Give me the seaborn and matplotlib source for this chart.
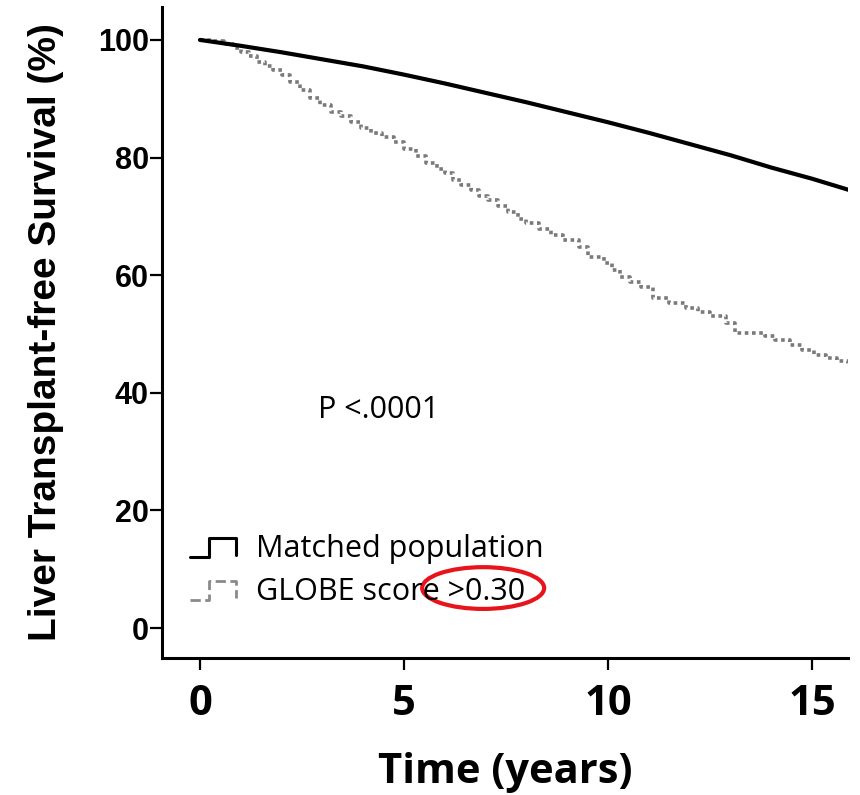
import numpy as np
import pandas as pd
import matplotlib
matplotlib.use('Agg')
import matplotlib.pyplot as plt
import seaborn as sns
from matplotlib.lines import Line2D
from matplotlib.patches import Ellipse
from matplotlib.legend_handler import HandlerBase

# matched population (expected survival, smooth)
matched_t = [0, 1, 2, 3, 4, 5, 6, 7, 8, 9, 10, 11, 12, 13, 14, 15, 15.9]
matched_s = [100, 99.0, 97.9, 96.7, 95.5, 94.1, 92.6, 91.0, 89.4, 87.7, 86.0, 84.2, 82.3, 80.4, 78.3, 76.4, 74.5]

# GLOBE score >0.30 (Kaplan-Meier steps)
globe_t = [0, 0.3, 0.6, 0.8, 1.0, 1.2, 1.4, 1.6, 1.8, 2.0, 2.2, 2.45, 2.7, 2.95, 3.2,
           3.45, 3.7, 3.95, 4.2, 4.45, 4.75, 5.0, 5.3, 5.55, 5.8, 6.0, 6.2, 6.4, 6.65,
           6.85, 7.05, 7.3, 7.55, 7.8, 8.0, 8.3, 8.6, 8.9, 9.3, 9.5, 9.9, 10.1, 10.3,
           10.55, 10.8, 11.1, 11.5, 11.9, 12.2, 12.5, 12.9, 13.1, 13.85, 14.1, 14.45,
           14.75, 15.05, 15.35, 15.6, 15.88]
globe_s = [100, 99.8, 99.3, 98.6, 98.0, 97.2, 96.3, 95.6, 94.9, 94.0, 92.9, 91.5, 90.2,
           89.0, 87.8, 87.0, 86.0, 85.0, 84.2, 83.5, 82.7, 81.5, 80.2, 79.0, 78.1, 77.3,
           76.2, 75.3, 74.4, 73.5, 72.8, 71.7, 70.8, 69.6, 68.8, 67.8, 66.8, 65.9, 64.8,
           63.1, 62.0, 60.8, 59.7, 58.8, 58.0, 56.1, 55.3, 54.5, 53.8, 53.0, 51.8, 50.1,
           49.6, 48.9, 48.1, 47.3, 46.4, 45.9, 45.4, 44.9]

labels = ['Matched population', 'GLOBE score >0.30']
x_ticks = [0, 5, 10, 15]
y_ticks = [0, 20, 40, 60, 80, 100]

sns.set_style('ticks')
plt.rcParams['font.family'] = ['Liberation Sans', 'DejaVu Sans']
for key in ['text.color', 'axes.labelcolor', 'xtick.color', 'ytick.color', 'axes.edgecolor']:
    plt.rcParams[key] = 'black'

matched = pd.DataFrame({'t': matched_t, 's': matched_s})
globe = pd.DataFrame({'t': globe_t, 's': globe_s})


class StepHandler(HandlerBase):
    # legend key drawn as a little step, like the KM legend in SPSS
    def create_artists(self, legend, orig_handle, xdescent, ydescent, width, height, fontsize, trans):
        xs = np.array([0, 0.42, 0.42, 1.0, 1.0]) * width - xdescent
        ys = np.array([0.0, 0.0, 1.0, 1.0, 0.1]) * height * 0.85 - ydescent
        line = Line2D(xs, ys, color=orig_handle.get_color(), lw=orig_handle.get_linewidth(),
                      linestyle=orig_handle.get_linestyle(), transform=trans)
        return [line]


fig = plt.figure(figsize=(8.6, 7.95), dpi=100)
ax = fig.add_axes([0.1884, 0.1723, 0.7976, 0.8189])

sns.lineplot(data=globe, x='t', y='s', ax=ax, color='#7a7a7a', lw=2.6,
             drawstyle='steps-post', linestyle=(0, (1.0, 1.0)))
sns.lineplot(data=matched, x='t', y='s', ax=ax, color='black', lw=3.0)

ax.set_xlim(-0.93, 15.88)
ax.set_ylim(-5.1, 105.6)
ax.set_xticks(x_ticks)
ax.set_yticks(y_ticks)

for side in ['top', 'right']:
    ax.spines[side].set_visible(False)
for side in ['left', 'bottom']:
    ax.spines[side].set_linewidth(2.2)
ax.tick_params(axis='both', length=8.5, width=1.6, color='black')
ax.tick_params(axis='y', pad=1)
ax.tick_params(axis='x', pad=10)

for lab in ax.get_yticklabels():
    lab.set_fontsize(22)
    lab.set_fontweight('bold')
for lab in ax.get_xticklabels():
    lab.set_family(['Open Sans', 'DejaVu Sans'])
    lab.set_fontsize(30)
    lab.set_fontweight('bold')

ax.set_xlabel('Time (years)', fontsize=30, fontweight='bold',
              family=['Open Sans', 'DejaVu Sans'], labelpad=20)
ax.set_ylabel('Liver Transplant-free Survival (%)', fontsize=28, fontweight='bold',
              labelpad=24)

ax.text(2.89, 37.1, 'P <.0001', fontsize=22, family=['Open Sans', 'DejaVu Sans'],
        va='center', ha='left')

handles = [Line2D([], [], color='black', lw=2.2),
           Line2D([], [], color='#8a8a8a', lw=2.0, linestyle=(0, (1.0, 1.0)))]
ax.legend(handles, labels, loc='upper left', bbox_to_anchor=(0.041, 0.191),
          frameon=False, handlelength=1.5, handletextpad=0.65, labelspacing=0.42,
          borderpad=0, borderaxespad=0,
          handler_map={Line2D: StepHandler()},
          prop={'family': ['Open Sans', 'DejaVu Sans'], 'size': 22})

ax.add_patch(Ellipse((6.94, 6.8), 2.99, 7.1, fill=False, edgecolor='#e8141c', lw=3.0))

fig.savefig('out.png', dpi=100)
